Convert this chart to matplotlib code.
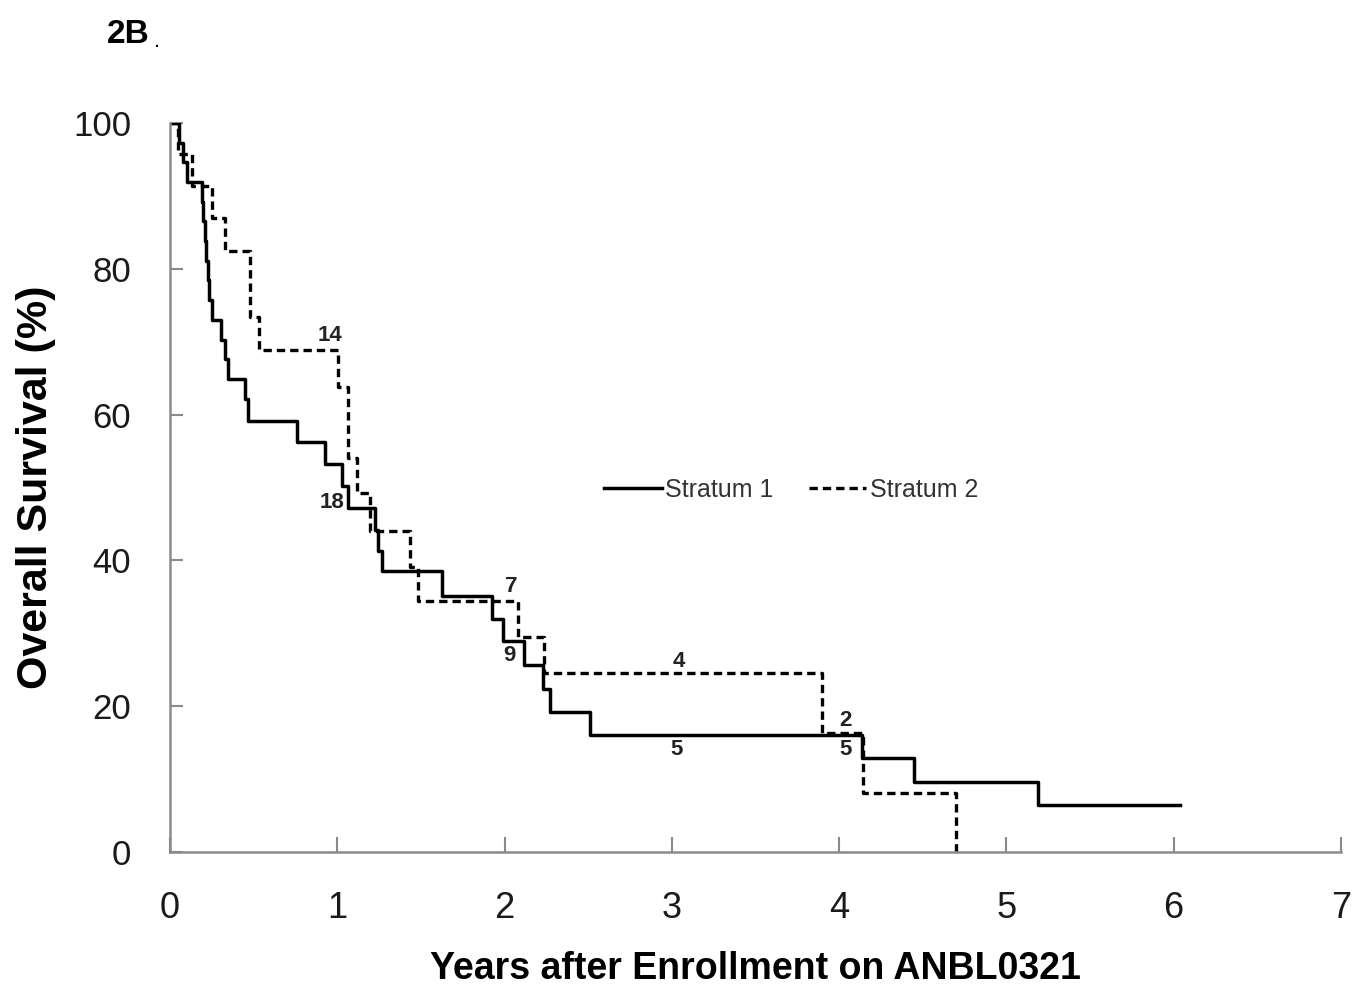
import matplotlib
matplotlib.use('Agg')
import matplotlib.pyplot as plt
import numpy as np

# Kaplan-Meier steps (time in years, survival % after the step)
s1_time = [0, 0.056, 0.075, 0.10, 0.19, 0.20, 0.21, 0.215, 0.225, 0.235, 0.25,
           0.305, 0.33, 0.347, 0.448, 0.468, 0.761, 0.926, 1.03, 1.066, 1.225,
           1.245, 1.265, 1.628, 1.923, 1.992, 2.116, 2.231, 2.271, 2.51, 4.134,
           4.447, 5.19, 6.04]
s1_surv = [100, 97.3, 94.6, 91.9, 89.2, 86.5, 83.8, 81.1, 78.4, 75.7, 73.0,
           70.3, 67.6, 64.9, 62.2, 59.1, 56.2, 53.2, 50.2, 47.2, 44.2,
           41.3, 38.5, 35.1, 32.0, 28.9, 25.7, 22.3, 19.2, 16.1, 12.9,
           9.6, 6.4, 6.4]

s2_time = [0, 0.05, 0.13, 0.249, 0.329, 0.478, 0.532, 1.006, 1.066, 1.12, 1.195,
           1.434, 1.484, 2.078, 2.237, 3.899, 4.144, 4.70]
s2_surv = [100, 95.7, 91.3, 87.0, 82.5, 73.4, 68.8, 63.8, 54.0, 49.2, 44.1,
           39.1, 34.4, 29.5, 24.5, 16.3, 8.1, 0]

# numbers at risk written on the curves
risk_labels = ['14', '18', '7', '9', '4', '5', '2', '5']
risk_x = [0.956, 0.966, 2.04, 2.03, 3.04, 3.03, 4.04, 4.04]
risk_y = [70.9, 48.0, 36.4, 26.9, 26.1, 14.1, 18.1, 14.0]

plt.rcParams['font.family'] = ['Liberation Sans', 'DejaVu Sans']

fig = plt.figure(figsize=(13.69, 9.96), dpi=100)
ax = fig.add_axes([0.1242, 0.1446, 0.8553, 0.7319])

ax.step(s1_time, s1_surv, where='post', color='black', lw=2.5, label='Stratum 1')
ax.step(s2_time, s2_surv, where='post', color='black', lw=2.4,
        dashes=(2.5, 1.5), label='Stratum 2')

for lab, xx, yy in zip(risk_labels, risk_x, risk_y):
    ax.text(xx, yy, lab, ha='center', va='center', fontsize=16,
            fontweight='bold', color='#222222')

ax.set_xlim(0, 7)
ax.set_ylim(0, 100)
ax.set_xticks(np.arange(0, 8, 1))
ax.set_yticks(np.arange(0, 101, 20))

for side in ['top', 'right']:
    ax.spines[side].set_visible(False)
for side in ['left', 'bottom']:
    ax.spines[side].set_color('#8a8a8a')
    ax.spines[side].set_linewidth(1.8)

ax.tick_params(axis='x', direction='in', length=11, width=1.5, color='#8a8a8a',
               labelsize=26, pad=28, labelcolor='#1a1a1a')
ax.tick_params(axis='y', direction='in', length=9, width=1.5, color='#8a8a8a',
               labelsize=25, pad=28, labelcolor='#1a1a1a')

ax.set_xlabel('Years after Enrollment on ANBL0321', fontsize=27,
              fontweight='bold', labelpad=18)
ax.set_ylabel('Overall Survival (%)', fontsize=31, fontweight='bold', labelpad=12)

leg = ax.legend(loc='center left', bbox_to_anchor=(0.4412, 0.508),
                bbox_transform=fig.transFigure, ncol=2, frameon=False,
                fontsize=18, handlelength=2.3, handletextpad=0.15,
                columnspacing=1.4, borderpad=0, borderaxespad=0)
for t in leg.get_texts():
    t.set_color('#333333')

fig.text(0.078, 0.965, '2B', fontsize=24, fontweight='bold', va='center')
fig.text(0.1125, 0.958, '.', fontsize=16, va='center')

fig.savefig('out.png', dpi=100)
